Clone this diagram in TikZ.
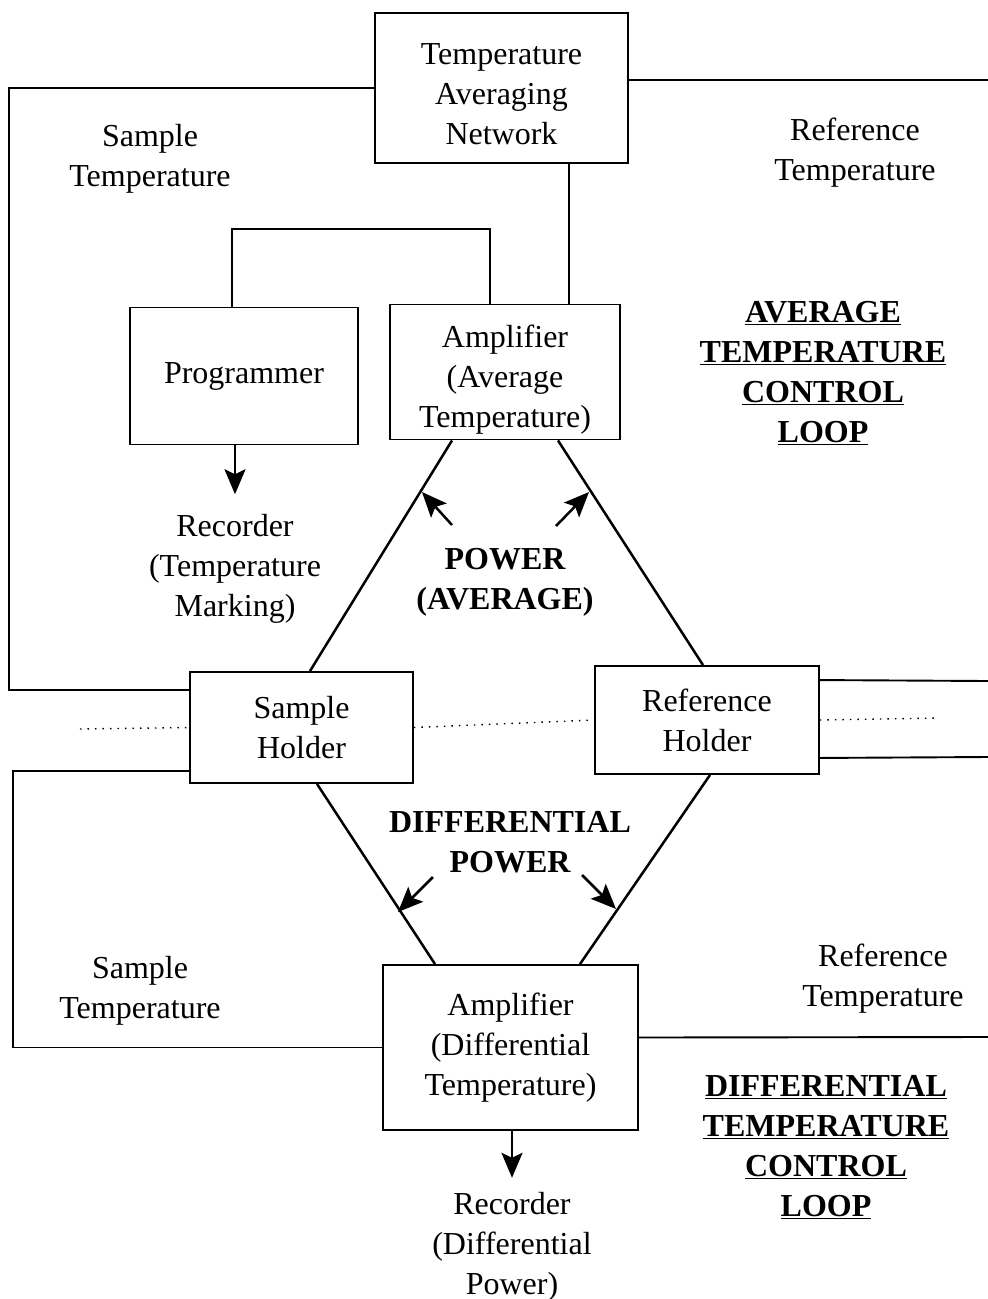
\documentclass[tikz,border=0pt]{standalone}
\usepackage{fontspec}
\setmainfont{Liberation Serif}
\usepackage{tikz}
\usetikzlibrary{arrows.meta, positioning}
\newcommand{\figsize}{\fontsize{32}{40}\selectfont}
\newcommand{\dropline}[1]{\rule{0pt}{#1}}
\tikzstyle{unit} = [rectangle, draw, line width=1.9pt, align=center, inner sep=0pt]
\tikzstyle{caption} = [align=center, inner sep=0pt]
\tikzstyle{banner} = [align=center, inner sep=0pt, font=\figsize\bfseries]
\tikzstyle{wire} = [line width=1.9pt]
\tikzstyle{leg} = [line width=2.5pt]
\tikzstyle{arrow} = [-{Stealth[length=25pt, width=21pt, inset=5pt]}, line width=2.5pt]
\tikzstyle{probe} = [line width=1.4pt, dash pattern=on 1.5pt off 6pt]
\begin{document}
\begin{tikzpicture}[x=1pt, y=-1pt, font=\figsize]
    \useasboundingbox (0,0) rectangle (988,1299);

    % boxes
    \node (tan) [unit, minimum width=253pt, minimum height=150pt] at (501.5,88) {\dropline{34pt}Temperature\\Averaging\\Network};
    \node (prog) [unit, minimum width=228pt, minimum height=137pt] at (244,376) {Programmer};
    \node (ampavg) [unit, minimum width=230pt, minimum height=135pt] at (505,372) {\dropline{38pt}Amplifier\\(Average\\Temperature)};
    \node (sh) [unit, minimum width=223pt, minimum height=111pt] at (301.5,727.5) {Sample\\Holder};
    \node (rh) [unit, minimum width=224pt, minimum height=108pt] at (707,720) {Reference\\Holder};
    \node (ampdiff) [unit, minimum width=255pt, minimum height=165pt] at (510.5,1047.5) {Amplifier\\(Differential\\Temperature)};

    % texts
    \node (recmark) [caption, below of=prog, node distance=193pt, xshift=-9pt] {Recorder\\(Temperature\\Marking)};
    \node (recpow) [caption, below of=ampdiff, node distance=199pt, xshift=1.5pt] {Recorder\\(Differential\\Power)};
    \node (sampt) [caption] at (150,159) {Sample\\Temperature};
    \node (reft) [caption] at (855,153) {Reference\\Temperature};
    \node (sampd) [caption] at (140,991) {Sample\\Temperature};
    \node (refd) [caption] at (883,979) {Reference\\Temperature};
    \node (pwravg) [banner] at (505,582) {POWER\\(AVERAGE)};
    \node (pwrdiff) [banner] at (510,842) {DIFFERENTIAL\\POWER};
    \node (avgloop) [banner] at (823,373) {\underline{AVERAGE}\\\underline{TEMPERATURE}\\\underline{CONTROL}\\\underline{LOOP}};
    \node (diffloop) [banner] at (826,1147) {\underline{DIFFERENTIAL}\\\underline{TEMPERATURE}\\\underline{CONTROL}\\\underline{LOOP}};

    % free ends
    \coordinate (refout) at (988,80);
    \coordinate (rhtop) at (988,681);
    \coordinate (rhbot) at (988,757);
    \coordinate (diffout) at (988,1037);
    \coordinate (dotl) at (80,729);
    \coordinate (dotr) at (938,718);
    \coordinate (pa1) at (452,525);
    \coordinate (pa1e) at (422,492);
    \coordinate (pa2) at (556,526);
    \coordinate (pa2e) at (589,492);
    \coordinate (pd1) at (433,877);
    \coordinate (pd1e) at (398,912);
    \coordinate (pd2) at (582,875);
    \coordinate (pd2e) at (616,909);

    % average loop
    \draw [wire] (tan.west) -- ++(-365,0) |- ([yshift=-19pt]sh.north west);
    \draw [wire] ([yshift=8pt]tan.east) -- (refout);
    \draw [wire] ([xshift=67.5pt]tan.south) -- ([xshift=67.5pt]tan.south |- ampavg.north);
    \draw [wire] ([xshift=-12pt]prog.north) -- ++(0,-78) -| ([xshift=-15pt]ampavg.north);
    \draw [arrow, shorten >=20pt] (prog.south -| recmark) -- (recmark.north);
    \draw [leg] ([xshift=-53pt]ampavg.south) -- ([xshift=8.5pt]sh.north);
    \draw [leg] ([xshift=53pt]ampavg.south) -- ([xshift=-4pt]rh.north);
    \draw [arrow] (pa1) -- (pa1e);
    \draw [arrow] (pa2) -- (pa2e);

    % holders
    \draw [probe] (dotl) -- (sh.west);
    \draw [probe] (sh.east) -- (rh.west);
    \draw [probe] (rh.east) -- (dotr);
    \draw [wire] ([yshift=-15pt]rh.north east) -- (rhtop);
    \draw [wire] ([yshift=17pt]rh.south east) -- (rhbot);

    % differential loop
    \draw [wire] ([yshift=13pt]sh.south west) -- ++(-176,0) |- (ampdiff.west);
    \draw [wire] ([yshift=10pt]ampdiff.east) -- (diffout);
    \draw [leg] ([xshift=15.5pt]sh.south) -- ([xshift=-75.5pt]ampdiff.north);
    \draw [leg] ([xshift=3pt]rh.south) -- ([xshift=69.5pt]ampdiff.north);
    \draw [arrow] (pd1) -- (pd1e);
    \draw [arrow] (pd2) -- (pd2e);
    \draw [arrow, shorten >=14pt] (ampdiff.south -| recpow) -- (recpow.north);

\end{tikzpicture}
\end{document}
